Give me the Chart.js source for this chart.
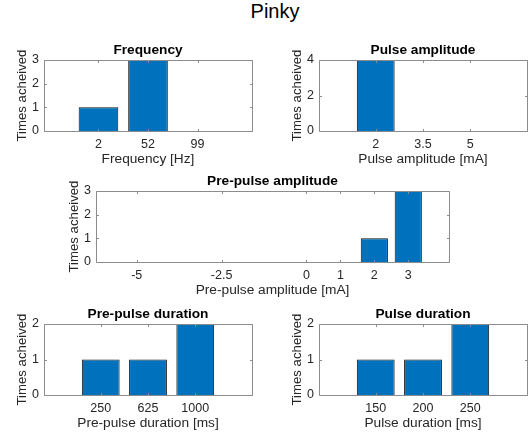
<!DOCTYPE html>
<html>
<head>
<meta charset="utf-8">
<script src="https://cdn.jsdelivr.net/npm/chart.js@4.4.1/dist/chart.umd.min.js"></script>
<style>
  html, body { margin: 0; padding: 0; background: #fff; overflow: hidden; }
  body { width: 528px; height: 434px; position: relative; font-family: "Liberation Sans", Arial, Helvetica, sans-serif; }
  #sup { position: absolute; left: 0; top: 0; width: 550px; text-align: center; font-size: 20px; line-height: 23px; color: #000; }
  canvas { position: absolute; }
</style>
</head>
<body>
<div id="sup">Pinky</div>
<canvas id="freq"></canvas>
<canvas id="pulseAmp"></canvas>
<canvas id="prePulseAmp"></canvas>
<canvas id="prePulseDur"></canvas>
<canvas id="pulseDur"></canvas>
<script>
// ---- data ----
const yLabel = 'Times acheived';

const freqLabels = ['2', '52', '99'];
const freqCounts = [1, 3, 0];
const freqYTicks = [0, 1, 2, 3];

const pulseAmpLabels = ['2', '3.5', '5'];
const pulseAmpCounts = [4, 0, 0];
const pulseAmpYTicks = [0, 2, 4];

const prePulseAmpValues = [-5, -2.5, 0, 1, 2, 3];
const prePulseAmpLabels = ['-5', '-2.5', '0', '1', '2', '3'];
const prePulseAmpCounts = [0, 0, 0, 0, 1, 3];
const prePulseAmpYTicks = [0, 1, 2, 3];

const prePulseDurLabels = ['250', '625', '1000'];
const prePulseDurCounts = [1, 1, 2];
const prePulseDurYTicks = [0, 1, 2];

const pulseDurLabels = ['150', '200', '250'];
const pulseDurCounts = [1, 1, 2];
const pulseDurYTicks = [0, 1, 2];

// ---- look ----
const FONT = "'Liberation Sans', Arial, Helvetica, sans-serif";
const BAR_FILL = '#0072BD';
const BAR_EDGE = '#111111';
const FRAME = '#8c8c8c';
const TEXT = '#262626';

const Y_AXIS_W = 44;   // room for y tick labels + y title
const X_AXIS_H = 40;   // room for x tick labels + x title
const TITLE_H = 24;    // room for the axes title
const PAD_R = 1;

// Box outline plus small inward tick marks on all four sides
const axesBox = {
  id: 'axesBox',
  afterDatasetsDraw(chart) {
    const { ctx, chartArea: a, scales: { x, y } } = chart;
    const L = Math.round(a.left) + 0.5, R = Math.round(a.right) + 0.5;
    const T = Math.round(a.top) + 0.5, B = Math.round(a.bottom) + 0.5;
    const tl = 2.5;
    ctx.save();
    ctx.strokeStyle = FRAME;
    ctx.lineWidth = 1;
    ctx.beginPath();
    ctx.rect(L, T, R - L, B - T);
    x.ticks.forEach(t => {
      const px = Math.round(x.getPixelForValue(t.value)) + 0.5;
      ctx.moveTo(px, B); ctx.lineTo(px, B - tl);
      ctx.moveTo(px, T); ctx.lineTo(px, T + tl);
    });
    y.ticks.forEach(t => {
      const py = Math.round(y.getPixelForValue(t.value)) + 0.5;
      ctx.moveTo(L, py); ctx.lineTo(L + tl, py);
      ctx.moveTo(R, py); ctx.lineTo(R - tl, py);
    });
    ctx.stroke();
    ctx.restore();
  }
};

function histPanel(id, box, spec) {
  const cv = document.getElementById(id);
  const w = box.r - box.l, h = box.b - box.t;
  cv.width = Y_AXIS_W + w + PAD_R;
  cv.height = TITLE_H + h + X_AXIS_H;
  cv.style.left = (box.l - Y_AXIS_W) + 'px';
  cv.style.top = (box.t - TITLE_H) + 'px';

  const points = spec.positions.map((p, i) => ({ x: p, y: spec.counts[i] }));

  return new Chart(cv, {
    type: 'bar',
    data: {
      datasets: [{
        data: points,
        backgroundColor: BAR_FILL,
        borderColor: BAR_EDGE,
        borderWidth: 1,
        borderSkipped: 'start',
        barPercentage: 0.8,
        categoryPercentage: 1
      }]
    },
    options: {
      responsive: false,
      animation: false,
      devicePixelRatio: 1,
      layout: { padding: { left: 0, right: PAD_R, top: 0, bottom: 0 } },
      plugins: {
        legend: { display: false },
        tooltip: { enabled: false },
        title: {
          display: true,
          text: spec.title,
          fullSize: false,
          color: '#000',
          font: { family: FONT, size: 13.7, weight: 'bold', lineHeight: 1.2 },
          padding: { top: 5.8, bottom: 1.8 }
        }
      },
      scales: {
        x: {
          type: 'linear',
          min: spec.xMin,
          max: spec.xMax,
          offset: false,
          grid: { display: false, drawTicks: false, offset: false },
          border: { display: false },
          afterBuildTicks: s => { s.ticks = spec.tickValues.map(v => ({ value: v })); },
          afterFit: s => { s.height = X_AXIS_H; },
          ticks: {
            autoSkip: false, maxRotation: 0, minRotation: 0, padding: 6,
            color: TEXT, font: { family: FONT, size: 12.5 },
            callback: (v, i) => spec.tickLabels[i]
          },
          title: {
            display: true, text: spec.xTitle, color: TEXT,
            font: { family: FONT, size: 13.7, lineHeight: 1.2 },
            padding: { top: 0, bottom: 3.3 }
          }
        },
        y: {
          min: 0,
          max: spec.yTicks[spec.yTicks.length - 1],
          grid: { display: false, drawTicks: false },
          border: { display: false },
          afterBuildTicks: s => { s.ticks = spec.yTicks.map(v => ({ value: v })); },
          afterFit: s => { s.width = Y_AXIS_W; },
          ticks: { padding: 5, color: TEXT, font: { family: FONT, size: 12.5 } },
          title: {
            display: true, text: yLabel, color: TEXT,
            font: { family: FONT, size: 13.2, lineHeight: 1.2 },
            padding: { top: 14.2, bottom: 0 }
          }
        }
      }
    },
    plugins: [axesBox]
  });
}

const idx = labels => labels.map((_, i) => i + 1);

histPanel('freq', { l: 44, t: 60, r: 252, b: 131 }, {
  title: 'Frequency', xTitle: 'Frequency [Hz]',
  positions: idx(freqLabels), counts: freqCounts,
  tickValues: idx(freqLabels), tickLabels: freqLabels,
  xMin: -0.1, xMax: 4.1, yTicks: freqYTicks
});

histPanel('pulseAmp', { l: 319, t: 60, r: 527, b: 131 }, {
  title: 'Pulse amplitude', xTitle: 'Pulse amplitude [mA]',
  positions: idx(pulseAmpLabels), counts: pulseAmpCounts,
  tickValues: idx(pulseAmpLabels), tickLabels: pulseAmpLabels,
  xMin: -0.2, xMax: 4.2, yTicks: pulseAmpYTicks
});

histPanel('prePulseAmp', { l: 96, t: 191, r: 449, b: 262 }, {
  title: 'Pre-pulse amplitude', xTitle: 'Pre-pulse amplitude [mA]',
  positions: prePulseAmpValues, counts: prePulseAmpCounts,
  tickValues: prePulseAmpValues, tickLabels: prePulseAmpLabels,
  xMin: -6.2, xMax: 4.2, yTicks: prePulseAmpYTicks
});

histPanel('prePulseDur', { l: 44, t: 324, r: 252, b: 395 }, {
  title: 'Pre-pulse duration', xTitle: 'Pre-pulse duration [ms]',
  positions: idx(prePulseDurLabels), counts: prePulseDurCounts,
  tickValues: idx(prePulseDurLabels), tickLabels: prePulseDurLabels,
  xMin: -0.2, xMax: 4.2, yTicks: prePulseDurYTicks
});

histPanel('pulseDur', { l: 319, t: 324, r: 527, b: 395 }, {
  title: 'Pulse duration', xTitle: 'Pulse duration [ms]',
  positions: idx(pulseDurLabels), counts: pulseDurCounts,
  tickValues: idx(pulseDurLabels), tickLabels: pulseDurLabels,
  xMin: -0.2, xMax: 4.2, yTicks: pulseDurYTicks
});
</script>
</body>
</html>
